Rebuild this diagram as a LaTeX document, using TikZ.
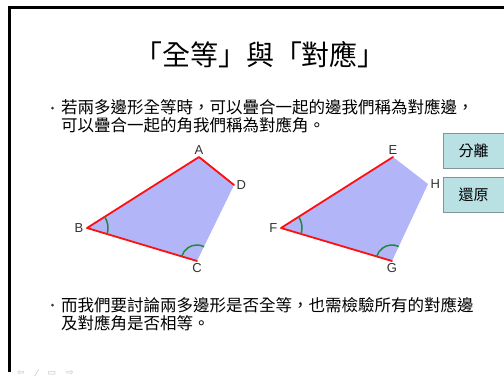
\documentclass[tikz,border=0pt]{standalone}
\usepackage{fontspec}
\usepackage{tikz}
\usetikzlibrary{positioning,angles}
\newfontfamily\cjk{Noto Sans CJK TC}
\newfontfamily\labfont{Liberation Sans}
\newfontfamily\navfont{DejaVu Sans}
\definecolor{quadfill}{HTML}{B3B5F9}
\definecolor{edgered}{HTML}{FF1010}
\definecolor{anglegreen}{HTML}{1E8C32}
\definecolor{btnfill}{HTML}{B9E0E3}
\definecolor{btnline}{HTML}{7F9596}
\tikzset{
  vlabel/.style={font=\labfont\fontsize{13}{13}\selectfont,inner sep=0.5pt,text=black!80},
  redge/.style={draw=edgered,line width=1.8pt,line cap=round,line join=round},
  angarc/.style={draw=anglegreen,line width=1.5pt,angle radius=#1},
  angarc/.default={20pt},
  button/.style={rectangle,minimum width=61pt,minimum height=35pt,fill=btnfill,
    draw=btnline,line width=0.8pt,font=\cjk\fontsize{15}{15}\selectfont},
  bodytext/.style={anchor=north west,align=left,inner sep=0pt,
    font=\cjk\fontsize{16.5}{18}\selectfont},
  bulletdot/.style={circle,fill=black!80,inner sep=0pt,minimum size=3pt},
}
\begin{document}
\begin{tikzpicture}[x=1pt,y=-1pt,
  navicon/.style={font=\navfont\fontsize{9}{9}\selectfont,text=black!25,inner sep=0pt},
]
  \useasboundingbox[fill=white] (0,0) rectangle (504,380);
  \draw[line width=2.6pt] (9.5,372) -- (9.5,7.5) -- (506,7.5);
  \node[font=\cjk\fontsize{28}{28}\selectfont] (title) at (260,55) {「全等」與「對應」};
  \node[bulletdot] (dot1) at (52.5,108) {};
  \node[bodytext] (para1) at (61,99) {若兩多邊形全等時，可以疊合一起的邊我們稱為對應邊，\\
    可以疊合一起的角我們稱為對應角。};
  \node[bulletdot] (dot2) at (52.5,305) {};
  \node[bodytext] (para2) at (61,297) {而我們要討論兩多邊形是否全等，也需檢驗所有的對應邊\\
    及對應角是否相等。};
  \node[button] (split) at (473.5,151) {分離};
  \node[button] (reset) at (473.5,194.5) {還原};

  \coordinate (A) at (199,157);
  \coordinate (D) at (234,185);
  \coordinate (C) at (197,261);
  \coordinate (B) at (87,228);
  \fill[quadfill] (A) -- (D) -- (C) -- (B) -- cycle;
  \draw[redge] (D) -- (A) -- (B) -- (C);
  \pic[angarc=21pt] {angle=C--B--A};
  \pic[angarc=16pt] {angle=D--C--B};
  \node[vlabel,above=1.5pt of A] (lA) {A};
  \node[vlabel,right=2pt of D] (lD) {D};
  \node[vlabel,left=3pt of B] (lB) {B};
  \node[vlabel,below=2pt of C] (lC) {C};

  \coordinate (E) at (393,157);
  \coordinate (H) at (428,184);
  \coordinate (G) at (392,261);
  \coordinate (F) at (281,228);
  \fill[quadfill] (E) -- (H) -- (G) -- (F) -- cycle;
  \draw[redge] (E) -- (F) -- (G);
  \pic[angarc=21pt] {angle=G--F--E};
  \pic[angarc=16pt] {angle=H--G--F};
  \node[vlabel,above=1.5pt of E] (lE) {E};
  \node[vlabel,right=2pt of H] (lH) {H};
  \node[vlabel,left=3pt of F] (lF) {F};
  \node[vlabel,below=2pt of G] (lG) {G};

  \node[navicon] (navprev) at (21,373) {⇦};
  \node[navicon] (navpen) at (37,373) {⁄};
  \node[navicon] (navmenu) at (52,373) {▭};
  \node[navicon] (navnext) at (70,373) {⇨};
\end{tikzpicture}
\end{document}
